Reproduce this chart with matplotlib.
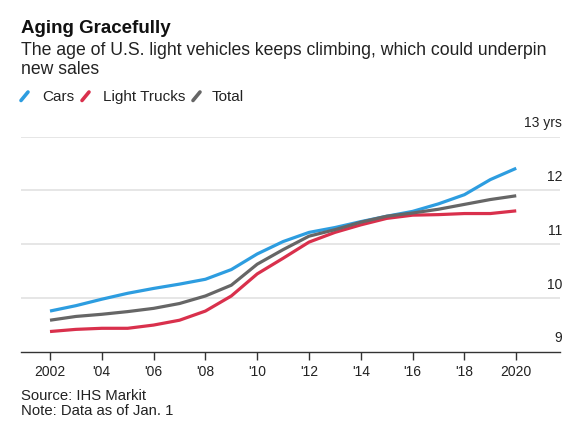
import matplotlib

matplotlib.use("Agg")
import matplotlib.pyplot as plt
from matplotlib.lines import Line2D
from matplotlib.transforms import blended_transform_factory

plt.rcParams["font.family"] = ["Liberation Sans", "DejaVu Sans"]

years = list(range(2002, 2021))
cars = [9.76, 9.86, 9.98, 10.09, 10.18, 10.26, 10.35, 10.53, 10.82, 11.05,
        11.22, 11.31, 11.42, 11.52, 11.61, 11.75, 11.92, 12.20, 12.41]
light_trucks = [9.38, 9.42, 9.44, 9.44, 9.50, 9.59, 9.76, 10.04, 10.45, 10.74,
                11.04, 11.22, 11.36, 11.48, 11.54, 11.55, 11.57, 11.57, 11.62]
total = [9.59, 9.66, 9.70, 9.75, 9.81, 9.90, 10.04, 10.24, 10.63, 10.90,
         11.15, 11.27, 11.41, 11.52, 11.58, 11.65, 11.74, 11.83, 11.90]

tick_years = [2002, 2004, 2006, 2008, 2010, 2012, 2014, 2016, 2018, 2020]
tick_labels = ["2002", "'04", "'06", "'08", "'10", "'12", "'14", "'16", "'18", "2020"]
y_levels = [9, 10, 11, 12, 13]
y_labels = ["9", "10", "11", "12", "13 yrs"]

series = [
    ("Cars", cars, "#2d9de0"),
    ("Light Trucks", light_trucks, "#d9304c"),
    ("Total", total, "#666666"),
]

W, H = 578, 435
fig = plt.figure(figsize=(W / 100, H / 100), dpi=100)
ax = fig.add_axes([21 / W, 1 - 353 / H, 539 / W, (353 - 137.5) / H])

ax.set_xlim(2000.88, 2021.69)
ax.set_ylim(9, 13)

for lvl in y_levels[1:]:
    ax.axhline(lvl, color="#e2e2e2", linewidth=1.2, zorder=1)

for name, vals, color in series:
    ax.plot(years, vals, color=color, linewidth=2.3, zorder=3,
            solid_capstyle="butt")

for side in ["top", "right", "left"]:
    ax.spines[side].set_visible(False)
ax.spines["bottom"].set_color("#333333")
ax.spines["bottom"].set_linewidth(1.0)

ax.set_xticks(tick_years)
ax.set_xticklabels(tick_labels, fontsize=10, color="#222222")
ax.tick_params(axis="x", length=6, width=1, color="#333333", pad=3)
ax.set_yticks([])

trans = blended_transform_factory(ax.transAxes, ax.transData)
for lvl, lab in zip(y_levels, y_labels):
    ax.text(1.004, lvl + 0.27, lab, transform=trans, ha="right", va="center",
            fontsize=10, color="#222222")

# Header texts
fig.text(21 / W, 1 - 33 / H, "Aging Gracefully", fontsize=13.5,
         fontweight="bold", color="#111111", va="baseline")
fig.text(21 / W, 1 - 55 / H,
         "The age of U.S. light vehicles keeps climbing, which could underpin",
         fontsize=12.7, color="#222222", va="baseline")
fig.text(21 / W, 1 - 74 / H, "new sales", fontsize=12.7, color="#222222",
         va="baseline")

# Legend with slash markers
legend_items = [(21, 42, "Cars", "#2d9de0"),
                (82, 103, "Light Trucks", "#d9304c"),
                (193, 212, "Total", "#666666")]
for mx, tx, label, color in legend_items:
    fig.add_artist(Line2D([mx / W, (mx + 7) / W], [1 - 101.5 / H, 1 - 93 / H],
                          transform=fig.transFigure, color=color,
                          linewidth=2.6, solid_capstyle="round"))
    fig.text(tx / W, 1 - 101 / H, label, fontsize=11, color="#222222",
             va="baseline")

# Footer
fig.text(21 / W, 1 - 400 / H, "Source: IHS Markit", fontsize=10.7,
         color="#222222", va="baseline")
fig.text(21 / W, 1 - 415 / H, "Note: Data as of Jan. 1", fontsize=10.7,
         color="#222222", va="baseline")

fig.savefig("out.png", dpi=100, facecolor="white")
